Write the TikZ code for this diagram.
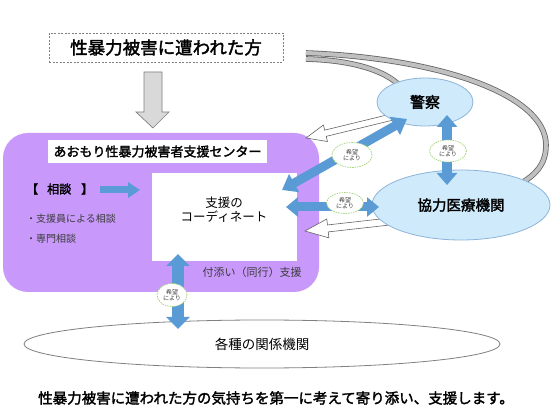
\documentclass[tikz,border=0pt]{standalone}
\usepackage{fontspec}
\setmainfont{Noto Sans CJK JP}[AutoFakeBold=2]
\usetikzlibrary{arrows.meta,shapes.geometric}
\definecolor{purp}{RGB}{200,152,250}
\definecolor{lblue}{RGB}{206,234,251}
\definecolor{eblue}{RGB}{143,180,217}
\definecolor{ablue}{RGB}{91,155,213}
\definecolor{bgreen}{RGB}{160,210,120}
\definecolor{bandfill}{RGB}{192,192,192}
\definecolor{bandedge}{RGB}{100,100,100}
\definecolor{txtgray}{RGB}{60,60,60}
\tikzset{
  fs/.style={font=\fontsize{#1}{#1}\selectfont},
  bubble/.style={ellipse, draw=bgreen, dash pattern=on 1.5pt off 1pt, line width=0.7pt, fill=white,
     inner sep=0pt, align=center, font=\fontsize{6}{6.5}\selectfont, text=txtgray},
  blob/.style={ellipse, draw=eblue, line width=0.8pt, fill=lblue, inner sep=0pt},
  hollow/.style={draw=bandedge, line width=0.6pt, fill=white, line join=miter},
  blarrow/.style={draw=ablue, line width=#1},
}
\begin{document}
\begin{tikzpicture}[x=1pt,y=-1pt]
\useasboundingbox (0,0) rectangle (552,414);
\fill[white] (0,0) rectangle (552,414);

% top box
\node[draw=gray, dash pattern=on 2pt off 1.5pt, line width=0.7pt, fill=white,
      minimum width=234pt, minimum height=29pt, inner sep=0pt, fs=17.5] (victim) at (166,47.5) {\bfseries 性暴力被害に遭われた方};

% gray down arrow
\draw[draw=gray, fill=black!15, line width=0.7pt]
  (144,72) -- (162,72) -- (162,112) -- (169,112) -- (153,128) -- (136,112) -- (144,112) -- cycle;

% purple center
\fill[purp, rounded corners=25pt] (3,133) rectangle (319,292);
\node[fill=white, minimum width=219pt, minimum height=23pt, inner sep=0pt, fs=13] (title) at (157.5,151.5) {\bfseries あおもり性暴力被害者支援センター};
\node[fill=white, minimum width=145pt, minimum height=88pt, inner sep=0pt] (coord) at (224.5,217) {};
\node[fs=12.5, align=center, inner sep=0pt] (coordtxt) at (224,209.5) {支援の\\[2pt]コーディネート};
\node[fs=12, inner sep=0pt, anchor=west] (soudan) at (26,189) {\bfseries 【\hspace{9pt}相談\hspace{10pt}】};
\node[fs=10, inner sep=0pt, anchor=west, text=txtgray] (s1) at (26,219) {・支援員による相談};
\node[fs=10, inner sep=0pt, anchor=west, text=txtgray] (s2) at (26,239) {・専門相談};
\node[fs=11, inner sep=0pt, text=txtgray] (dohan) at (252,272) {付添い（同行）支援};

% gray ribbons
\draw[bandedge, line width=5.6pt] (306,53) .. controls (440,58) and (546,95) .. (546,145) .. controls (546,165) and (535,175) .. (520,184);
\draw[bandfill, line width=4pt] (306,53) .. controls (440,58) and (546,95) .. (546,145) .. controls (546,165) and (535,175) .. (520,184);
\draw[bandedge, line width=5.6pt] (306,59) .. controls (350,60) and (385,70) .. (400,86);
\draw[bandfill, line width=4pt] (306,59) .. controls (350,60) and (385,70) .. (400,86);

% hollow arrows
\begin{scope}[shift={(306,138)}, rotate=193.7]
  \draw[hollow] (0,0) -- (-20,8.5) -- (-20,3.2) -- (-92,3.2) -- (-92,-3.2) -- (-20,-3.2) -- (-20,-8.5) -- cycle;
\end{scope}
\begin{scope}[shift={(305,231)}, rotate=186.4]
  \draw[hollow] (0,0) -- (-23,9.5) -- (-23,3.5) -- (-85,3.5) -- (-85,-3.5) -- (-23,-3.5) -- (-23,-9.5) -- cycle;
\end{scope}

% ellipses
\node[blob, minimum width=96pt, minimum height=48pt, fs=15] (police) at (425,102) {\bfseries 警察};
\node[blob, minimum width=178pt, minimum height=70pt, fs=14.5] (hosp) at (461,205) {\bfseries 協力医療機関};
\node[ellipse, draw=gray, line width=0.8pt, fill=white, minimum width=476pt, minimum height=48pt, inner sep=0pt, fs=13.5] (others) at (262,344) {各種の関係機関};

% blue arrows
\coordinate (sa) at (100,190);
\coordinate (sb) at (140,190);
\draw[blarrow=7pt, -{Triangle[length=12pt,width=15pt]}] (sa) -- (sb);
\coordinate (pa) at (407,119);
\coordinate (ca) at (282,190);
\draw[blarrow=9pt, {Triangle[length=14pt,width=20pt]}-{Triangle[length=14pt,width=20pt]}] (ca) -- (pa);
\coordinate (cb) at (286,207);
\coordinate (hb) at (379,207);
\draw[blarrow=9pt, {Triangle[length=12pt,width=19pt]}-{Triangle[length=12pt,width=19pt]}] (cb) -- (hb);
\coordinate (pc) at (447,115);
\coordinate (hc) at (447,185);
\draw[blarrow=10pt, {Triangle[length=12pt,width=20pt]}-{Triangle[length=12pt,width=20pt]}] (pc) -- (hc);
\coordinate (cd) at (178,254);
\coordinate (od) at (178,329);
\draw[blarrow=12pt, {Triangle[length=12pt,width=23pt]}-{Triangle[length=12pt,width=23pt]}] (cd) -- (od);

% bubbles
\node[bubble, minimum width=40pt, minimum height=25pt] (b1) at (352,155) {希望\\により};
\node[bubble, minimum width=37pt, minimum height=21pt] (b2) at (345,203) {希望\\により};
\node[bubble, minimum width=37pt, minimum height=22pt] (b3) at (448,151) {希望\\により};
\node[bubble, minimum width=30pt, minimum height=23pt] (b4) at (172,295) {希望\\により};

% bottom message
\node[fs=14.5, inner sep=0pt] (msg) at (276,398) {\bfseries 性暴力被害に遭われた方の気持ちを第一に考えて寄り添い、支援します。};
\end{tikzpicture}
\end{document}
